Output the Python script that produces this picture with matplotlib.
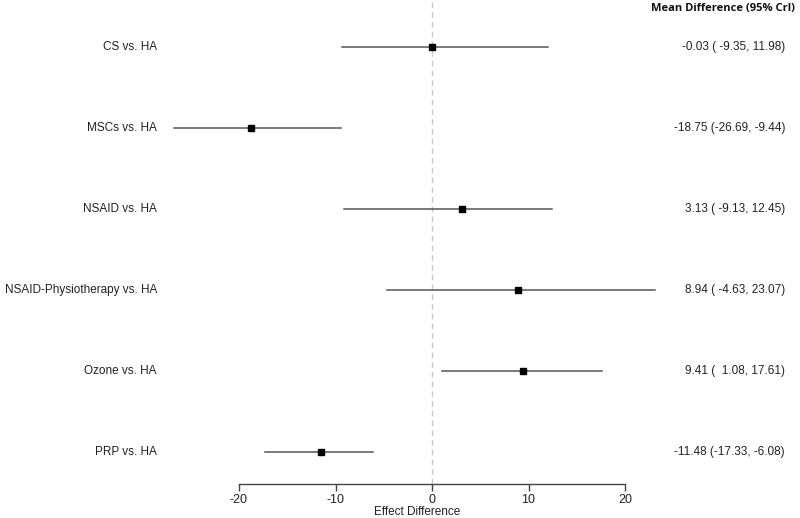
import matplotlib
matplotlib.use("Agg")
import matplotlib.pyplot as plt

labels = ["CS vs. HA", "MSCs vs. HA", "NSAID vs. HA", "NSAID-Physiotherapy vs. HA",
          "Ozone vs. HA", "PRP vs. HA"]
means = [-0.03, -18.75, 3.13, 8.94, 9.41, -11.48]
lows = [-9.35, -26.69, -9.13, -4.63, 1.08, -17.33]
highs = [11.98, -9.44, 12.45, 23.07, 17.61, -6.08]
xticks = [-20, -10, 0, 10, 20]

plt.rcParams['font.family'] = ['Liberation Sans', 'DejaVu Sans']

W, H = 800, 518
fig = plt.figure(figsize=(W / 100, H / 100), dpi=100)
x_lo, x_hi = -27, 24
left_px = 432 - 27 * 9.65
width_px = (x_hi - x_lo) * 9.65
ax = fig.add_axes([left_px / W, (H - 484) / H, width_px / W, 484 / H])
ax.set_xlim(x_lo, x_hi)
ax.set_ylim(0.605, 6.58)

n = len(labels)
ys = [n - i for i in range(n)]

ax.axvline(0, color='#c8c8c8', linestyle=(0, (4, 3)), linewidth=1.0, zorder=1)
for y, m, lo, hi in zip(ys, means, lows, highs):
    ax.plot([lo, hi], [y, y], color='#555555', linewidth=1.1, zorder=2)
    ax.plot([m], [y], marker='s', color='black', markersize=4.2, zorder=3)

for s in ['top', 'right', 'left']:
    ax.spines[s].set_visible(False)
ax.spines['bottom'].set_bounds(-20, 20)
ax.spines['bottom'].set_color('#444444')
ax.spines['bottom'].set_linewidth(1.0)
ax.set_yticks([])
ax.set_xticks(xticks)
ax.set_xticklabels([str(t) for t in xticks])
ax.tick_params(axis='x', direction='out', length=5, width=1.0, color='#444444',
               labelsize=9, pad=2, labelcolor='#222222')
ax.set_xlabel('Effect Difference', fontsize=8.5, labelpad=0, color='#222222')

for y, lab in zip(ys, labels):
    yp = ax.transData.transform((0, y))[1]
    fig.text(157 / W, yp / H, lab, ha='right', va='center', fontsize=8.5, color='#222222')

for y, m, lo, hi in zip(ys, means, lows, highs):
    yp = ax.transData.transform((0, y))[1]
    txt = f"{m:.2f} ({lo:6.2f}, {hi:.2f})"
    fig.text(785 / W, yp / H, txt, ha='right', va='center', fontsize=8.5, color='#222222')

fig.text(795 / W, (H - 9) / H, 'Mean Difference (95% Crl)', ha='right', va='center',
         fontsize=8, fontweight='bold', family=['Open Sans', 'DejaVu Sans'], color='#111111')

fig.savefig('out.png', dpi=100, facecolor='white')
